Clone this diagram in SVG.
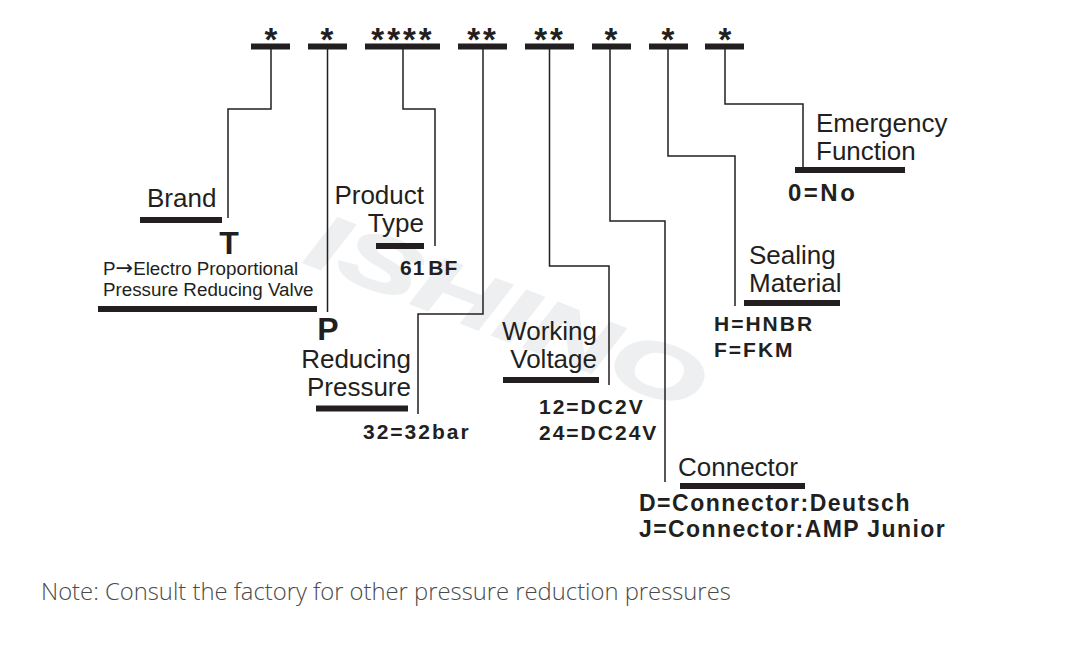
<svg xmlns="http://www.w3.org/2000/svg" width="1077" height="654" viewBox="0 0 1077 654">
<style>
text{font-family:"Liberation Sans",Arial,sans-serif;fill:#231f20}
.l{font-size:26px}
.b{font-size:21px;font-weight:bold;letter-spacing:2px}
.s{font-size:18.800px}
.big{font-size:32px;font-weight:bold}
.st{font-size:33px;font-weight:bold}
.bar{fill:#231f20}
.c{fill:none;stroke:#231f20;stroke-width:1.500}
</style>
<rect width="1077" height="654" fill="#fff"/>
<text id="watermark" transform="translate(302 262) rotate(21)" style="font-size:78px;font-weight:bold;font-style:italic;fill:#eeeff0;stroke:#eeeff0;stroke-width:2" textLength="418" lengthAdjust="spacingAndGlyphs">ISHINO</text>
<g id="connectors">
<path class="c" d="M271 49V109H228V218"/>
<path class="c" d="M327.500 49V312"/>
<path class="c" d="M403 49V109H435V246"/>
<path class="c" d="M483 49V314H418V414"/>
<path class="c" d="M549.500 49V266H609V385"/>
<path class="c" d="M610 49V221H665V482"/>
<path class="c" d="M668 49V156H735V306"/>
<path class="c" d="M725 49V104H803V171"/>
</g>
<g id="code">
<rect class="bar" x="251" y="43.500" width="39" height="6"/><text class="st" x="271" y="51" text-anchor="middle">*</text>
<rect class="bar" x="308" y="43.500" width="39" height="6"/><text class="st" x="327" y="51" text-anchor="middle">*</text>
<rect class="bar" x="365" y="43.500" width="75" height="6"/><text class="st" x="403" y="51" text-anchor="middle" letter-spacing="3">****</text>
<rect class="bar" x="458" y="43.500" width="49" height="6"/><text class="st" x="483" y="51" text-anchor="middle" letter-spacing="3">**</text>
<rect class="bar" x="525" y="43.500" width="49" height="6"/><text class="st" x="550" y="51" text-anchor="middle" letter-spacing="3">**</text>
<rect class="bar" x="592" y="43.500" width="39" height="6"/><text class="st" x="611" y="51" text-anchor="middle">*</text>
<rect class="bar" x="649" y="43.500" width="39" height="6"/><text class="st" x="668" y="51" text-anchor="middle">*</text>
<rect class="bar" x="705" y="43.500" width="39" height="6"/><text class="st" x="725" y="51" text-anchor="middle">*</text>
</g>
<g id="brand">
<text class="l" x="147" y="207">Brand</text>
<rect class="bar" x="140" y="217" width="82" height="6"/>
<text class="big" x="229" y="254" text-anchor="middle">T</text>
</g>
<g id="valve">
<text class="s" x="103" y="275">P<tspan style="font-family:'DejaVu Sans',sans-serif;font-size:21px">→</tspan>Electro Proportional</text>
<text class="s" x="103" y="296">Pressure Reducing Valve</text>
<rect class="bar" x="98" y="306" width="219" height="6"/>
<text class="big" x="328" y="340" text-anchor="middle">P</text>
</g>
<g id="product-type">
<text class="l" x="424" y="204" text-anchor="end">Product</text>
<text class="l" x="424" y="232" text-anchor="end">Type</text>
<rect class="bar" x="376" y="243" width="48" height="6"/>
<text class="b" x="400" y="275" style="letter-spacing:1px">61<tspan dx="3">BF</tspan></text>
</g>
<g id="reducing-pressure">
<text class="l" x="411" y="368" text-anchor="end">Reducing</text>
<text class="l" x="411" y="396" text-anchor="end">Pressure</text>
<rect class="bar" x="316" y="405.500" width="92" height="6"/>
<text class="b" x="363" y="439">32=32bar</text>
</g>
<g id="working-voltage">
<text class="l" x="597" y="340" text-anchor="end">Working</text>
<text class="l" x="597" y="368" text-anchor="end">Voltage</text>
<rect class="bar" x="503" y="377" width="96" height="6"/>
<text class="b" x="539" y="414">12=DC2V</text>
<text class="b" x="539" y="440">24=DC24V</text>
</g>
<g id="connector">
<text class="l" x="678" y="476">Connector</text>
<rect class="bar" x="680" y="483" width="125" height="6"/>
<text class="b" x="639" y="511" style="font-size:23px;letter-spacing:1.500px">D=Connector:Deutsch</text>
<text class="b" x="639" y="537" style="font-size:23px;letter-spacing:1.400px">J=Connector:AMP Junior</text>
</g>
<g id="sealing-material">
<text class="l" x="749" y="264">Sealing</text>
<text class="l" x="749" y="292">Material</text>
<rect class="bar" x="744" y="300" width="96" height="6"/>
<text class="b" x="714" y="331">H=HNBR</text>
<text class="b" x="714" y="357">F=FKM</text>
</g>
<g id="emergency-function">
<text class="l" x="816" y="132">Emergency</text>
<text class="l" x="816" y="160">Function</text>
<rect class="bar" x="795" y="167" width="110" height="6"/>
<text class="b" x="788" y="201" style="font-size:24px;letter-spacing:2.500px">0=No</text>
</g>
<text id="note" x="41" y="600" style="font-family:'Open Sans',sans-serif;font-size:23.800px;font-weight:300;fill:#4a4a4a">Note: Consult the factory for other pressure reduction pressures</text>
</svg>
